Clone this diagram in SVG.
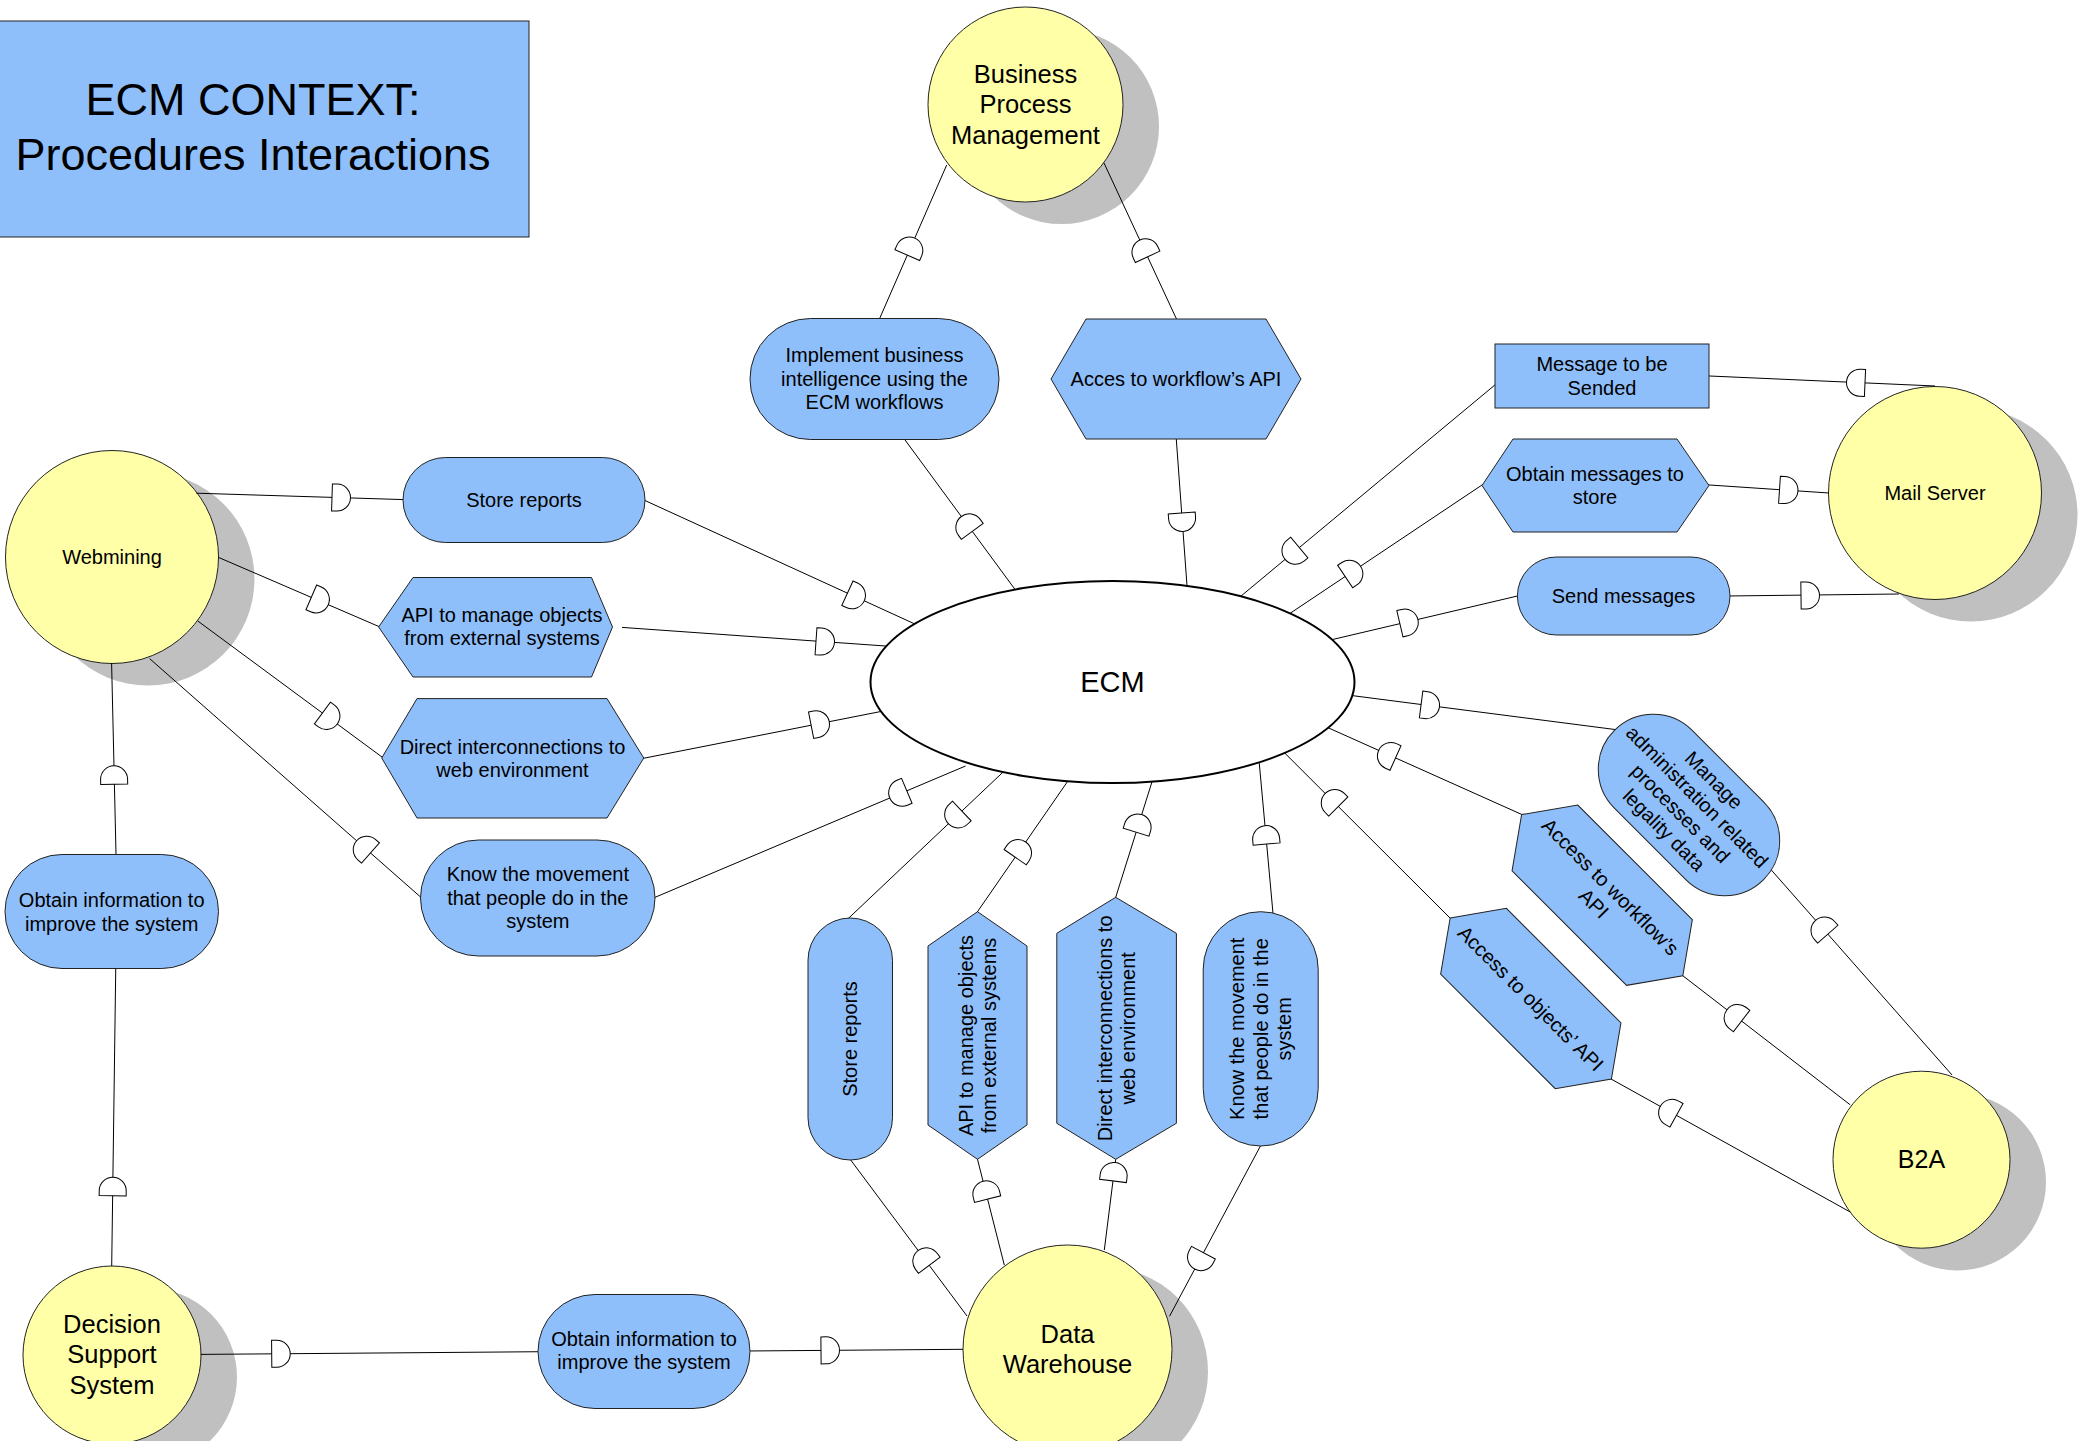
<svg xmlns="http://www.w3.org/2000/svg" xmlns:xlink="http://www.w3.org/1999/xlink" width="2089" height="1441" viewBox="0 0 2089 1441">
  <style>
    text { font-family: "Liberation Sans", Arial, sans-serif; fill: #000; text-anchor: middle; }
    .t20 { font-size: 20px; }
    .t24 { font-size: 25.5px; }
    .proc { fill: #8fbffa; stroke: #222; stroke-width: 1; }
    .actor { fill: #ffffa8; stroke: #222; stroke-width: 1; }
    .shadow { fill: #c0c0c0; stroke: none; }
    .conn line { stroke: #000; stroke-width: 1; fill: none; }
    .gate { fill: #fff; stroke: #000; stroke-width: 1; }
  </style>
  <defs>
    <!-- interface gate: flat back at x=0, rounded front pointing along +x -->
    <path id="gate" class="gate" d="M0,-13.5H5A13.5,13.5 0 0 1 5,13.5H0Z"/>
  </defs>
  <rect width="2089" height="1441" fill="#fff"/>

  <!-- title -->
  <g id="title">
    <rect x="-1" y="21" width="530" height="216" class="proc" stroke="#333"/>
    <text x="253" y="115" style="font-size:45px">ECM CONTEXT:</text>
    <text x="253" y="170" style="font-size:45px">Procedures Interactions</text>
  </g>

  <!-- actors (with drop shadows) -->
  <g id="bpm">
    <circle class="shadow" cx="1061.5" cy="126.5" r="97.5"/>
    <circle class="actor" cx="1025.5" cy="104.5" r="97.5"/>
    <text class="t24" x="1025.5" y="82.5">Business</text>
    <text class="t24" x="1025.5" y="113">Process</text>
    <text class="t24" x="1025.5" y="143.5">Management</text>
  </g>
  <g id="mail-server">
    <circle class="shadow" cx="1971" cy="515" r="106.5"/>
    <circle class="actor" cx="1935" cy="493" r="106.5"/>
    <text class="t20" x="1935" y="500">Mail Server</text>
  </g>
  <g id="webmining">
    <circle class="shadow" cx="148" cy="579" r="106.5"/>
    <circle class="actor" cx="112" cy="557" r="106.5"/>
    <text class="t20" x="112" y="564">Webmining</text>
  </g>
  <g id="dss">
    <circle class="shadow" cx="148" cy="1377" r="89"/>
    <circle class="actor" cx="112" cy="1355" r="89"/>
    <text class="t24" x="112" y="1332.5">Decision</text>
    <text class="t24" x="112" y="1363">Support</text>
    <text class="t24" x="112" y="1393.5">System</text>
  </g>
  <g id="data-warehouse">
    <circle class="shadow" cx="1103.5" cy="1371.5" r="104.5"/>
    <circle class="actor" cx="1067.5" cy="1349.5" r="104.5"/>
    <text class="t24" x="1067.5" y="1342.5">Data</text>
    <text class="t24" x="1067.5" y="1373">Warehouse</text>
  </g>
  <g id="b2a">
    <circle class="shadow" cx="1957.5" cy="1182" r="88.5"/>
    <circle class="actor" cx="1921.5" cy="1159.7" r="88.5"/>
    <text x="1921.5" y="1168" style="font-size:25px">B2A</text>
  </g>

  <!-- connectors -->
  <g id="connectors" class="conn">
    <g><line x1="946.7" y1="165" x2="878.1" y2="322"/><use xlink:href="#gate" transform="translate(907.3,255.1) rotate(-66.4)"/></g>
    <g><line x1="1104" y1="163" x2="1177.7" y2="321.6"/><use xlink:href="#gate" transform="translate(1147.6,256.8) rotate(-114.9)"/></g>
    <g><line x1="902.2" y1="436.1" x2="1018.6" y2="594.3"/><use xlink:href="#gate" transform="translate(972.3,531.4) rotate(-126.3)"/></g>
    <g><line x1="1176" y1="435.3" x2="1187.4" y2="591"/><use xlink:href="#gate" transform="translate(1181.7,513) rotate(85.8)"/></g>
    <g><line x1="1498" y1="382.4" x2="1237.1" y2="599.3"/><use xlink:href="#gate" transform="translate(1299.3,547.6) rotate(140.3)"/></g>
    <g><line x1="1485.3" y1="482.8" x2="1286.7" y2="615.6"/><use xlink:href="#gate" transform="translate(1345.2,576.5) rotate(-33.8)"/></g>
    <g><line x1="1521.3" y1="595.1" x2="1327.5" y2="640.7"/><use xlink:href="#gate" transform="translate(1399.9,623.7) rotate(-13.2)"/></g>
    <g><line x1="1346.7" y1="694.9" x2="1617.3" y2="729.8"/><use xlink:href="#gate" transform="translate(1421.1,704.5) rotate(7.3)"/></g>
    <g><line x1="1323.8" y1="725.8" x2="1524.3" y2="815.6"/><use xlink:href="#gate" transform="translate(1395.5,758) rotate(-155.9)"/></g>
    <g><line x1="1280.8" y1="749.1" x2="1452.8" y2="920.8"/><use xlink:href="#gate" transform="translate(1338.3,806.5) rotate(-135)"/></g>
    <g><line x1="641" y1="498.7" x2="918.8" y2="625.8"/><use xlink:href="#gate" transform="translate(847.4,593.2) rotate(24.6)"/></g>
    <g><line x1="622" y1="627.4" x2="891" y2="646.4"/><use xlink:href="#gate" transform="translate(816,641.2) rotate(4)"/></g>
    <g><line x1="639.4" y1="759.1" x2="885.9" y2="710.5"/><use xlink:href="#gate" transform="translate(811.1,725.2) rotate(-11.1)"/></g>
    <g><line x1="651.3" y1="898.9" x2="965.5" y2="766"/><use xlink:href="#gate" transform="translate(906.8,790.8) rotate(157.1)"/></g>
    <g><line x1="196.4" y1="493.2" x2="406.7" y2="499.7"/><use xlink:href="#gate" transform="translate(332,497.4) rotate(1.8)"/></g>
    <g><line x1="218.75" y1="557.5" x2="382.3" y2="628"/><use xlink:href="#gate" transform="translate(311.3,597.4) rotate(23.3)"/></g>
    <g><line x1="197.8" y1="621" x2="384.9" y2="759.2"/><use xlink:href="#gate" transform="translate(322.4,713) rotate(36.4)"/></g>
    <g><line x1="149.6" y1="658.6" x2="423.5" y2="899.6"/><use xlink:href="#gate" transform="translate(370.5,853) rotate(-138.6)"/></g>
    <g><line x1="111.6" y1="663" x2="116.1" y2="858"/><use xlink:href="#gate" transform="translate(114.2,784.3) rotate(-91.3)"/></g>
    <g><line x1="115.8" y1="964.4" x2="111.7" y2="1266"/><use xlink:href="#gate" transform="translate(112.65,1195.7) rotate(-89.2)"/></g>
    <g><line x1="200.7" y1="1354.4" x2="541.8" y2="1351.7"/><use xlink:href="#gate" transform="translate(271.7,1353.8) rotate(-0.5)"/></g>
    <g><line x1="745.7" y1="1351" x2="963" y2="1349.3"/><use xlink:href="#gate" transform="translate(821,1350.4) rotate(-0.5)"/></g>
    <g><line x1="1006.1" y1="769.2" x2="846.7" y2="920"/><use xlink:href="#gate" transform="translate(961.8,811) rotate(136.6)"/></g>
    <g><line x1="848.3" y1="1156.8" x2="967" y2="1316"/><use xlink:href="#gate" transform="translate(929.3,1265.3) rotate(-126.7)"/></g>
    <g><line x1="1070.1" y1="777.8" x2="975.2" y2="915"/><use xlink:href="#gate" transform="translate(1015.2,857.2) rotate(-55.3)"/></g>
    <g><line x1="976.5" y1="1155.4" x2="1004.3" y2="1265"/><use xlink:href="#gate" transform="translate(987.6,1199.1) rotate(-104.2)"/></g>
    <g><line x1="1153.5" y1="777" x2="1114.5" y2="901.1"/><use xlink:href="#gate" transform="translate(1136.1,832.2) rotate(-72.6)"/></g>
    <g><line x1="1116.2" y1="1155.3" x2="1104.3" y2="1250"/><use xlink:href="#gate" transform="translate(1113,1180.9) rotate(-82.8)"/></g>
    <g><line x1="1258.8" y1="758" x2="1273.3" y2="916.7"/><use xlink:href="#gate" transform="translate(1266.6,844.1) rotate(-95.2)"/></g>
    <g><line x1="1262.3" y1="1142.5" x2="1169.5" y2="1316.3"/><use xlink:href="#gate" transform="translate(1203.4,1252.7) rotate(118.1)"/></g>
    <g><line x1="1769.9" y1="868.4" x2="1952" y2="1075"/><use xlink:href="#gate" transform="translate(1827.8,934.2) rotate(-131.4)"/></g>
    <g><line x1="1679.8" y1="973.4" x2="1850.2" y2="1104.8"/><use xlink:href="#gate" transform="translate(1741.6,1021) rotate(-142.3)"/></g>
    <g><line x1="1608" y1="1077.3" x2="1850.2" y2="1212"/><use xlink:href="#gate" transform="translate(1676.5,1115.3) rotate(-150.9)"/></g>
    <g><line x1="1705" y1="375.8" x2="1935" y2="386"/><use xlink:href="#gate" transform="translate(1865,382.9) rotate(182.5)"/></g>
    <g><line x1="1705" y1="484.7" x2="1829" y2="493"/><use xlink:href="#gate" transform="translate(1779.5,489.7) rotate(3.8)"/></g>
    <g><line x1="1726" y1="596" x2="1899" y2="594"/><use xlink:href="#gate" transform="translate(1801,595.6) rotate(-0.7)"/></g>
  </g>

  <!-- central system -->
  <g id="ecm">
    <ellipse cx="1112.5" cy="682" rx="242" ry="101" fill="#fff" stroke="#000" stroke-width="2"/>
    <text x="1112.5" y="692" style="font-size:29px">ECM</text>
  </g>

  <!-- procedures -->
  <g id="implement-bi">
    <rect class="proc" x="750" y="318.5" width="249" height="121" rx="60.5"/>
    <text class="t20" x="874.5" y="362">Implement business</text>
    <text class="t20" x="874.5" y="385.5">intelligence using the</text>
    <text class="t20" x="874.5" y="409">ECM workflows</text>
  </g>
  <g id="acces-workflow-api">
    <polygon class="proc" points="1086,319 1266,319 1301,379 1266,439 1086,439 1051,379"/>
    <text class="t20" x="1176" y="386">Acces to workflow’s API</text>
  </g>
  <g id="message-sended">
    <rect class="proc" x="1495" y="344" width="214" height="64"/>
    <text class="t20" x="1602" y="371">Message to be</text>
    <text class="t20" x="1602" y="394.5">Sended</text>
  </g>
  <g id="obtain-messages">
    <polygon class="proc" points="1513,439 1677,439 1709,485.5 1677,532 1513,532 1482,485.5"/>
    <text class="t20" x="1595" y="480.5">Obtain messages to</text>
    <text class="t20" x="1595" y="504">store</text>
  </g>
  <g id="send-messages">
    <rect class="proc" x="1517.4" y="557" width="212.6" height="78" rx="39"/>
    <text class="t20" x="1623.5" y="603">Send messages</text>
  </g>
  <g id="store-reports-left">
    <rect class="proc" x="403" y="457.5" width="242" height="85" rx="42.5"/>
    <text class="t20" x="524" y="507">Store reports</text>
  </g>
  <g id="api-objects-left">
    <polygon class="proc" points="413,577.5 591.5,577.5 612.5,627 591.5,677 413,677 378.6,627"/>
    <text class="t20" x="502" y="621.5">API to manage objects</text>
    <text class="t20" x="502" y="645">from external systems</text>
  </g>
  <g id="direct-web-left">
    <polygon class="proc" points="417,698.6 607,698.6 643.75,758 607,818 417,818 381.7,758"/>
    <text class="t20" x="512.5" y="753.5">Direct interconnections to</text>
    <text class="t20" x="512.5" y="777">web environment</text>
  </g>
  <g id="know-movement-left">
    <rect class="proc" x="420.5" y="840" width="234.5" height="116" rx="58"/>
    <text class="t20" x="537.8" y="881">Know the movement</text>
    <text class="t20" x="537.8" y="904.5">that people do in the</text>
    <text class="t20" x="537.8" y="928">system</text>
  </g>
  <g id="obtain-info-left">
    <rect class="proc" x="5" y="854.5" width="213.5" height="114" rx="57"/>
    <text class="t20" x="111.7" y="907">Obtain information to</text>
    <text class="t20" x="111.7" y="930.5">improve the system</text>
  </g>
  <g id="obtain-info-bottom">
    <rect class="proc" x="538" y="1294.5" width="212" height="114" rx="57"/>
    <text class="t20" x="644" y="1345.5">Obtain information to</text>
    <text class="t20" x="644" y="1369">improve the system</text>
  </g>
  <g id="store-reports-v">
    <rect class="proc" x="808" y="918" width="84.5" height="242" rx="42.25"/>
    <text class="t20" transform="translate(850.25,1039) rotate(-90)" y="7">Store reports</text>
  </g>
  <g id="api-objects-v">
    <polygon class="proc" points="977.5,911.7 1027,946 1027,1125 977.5,1159.3 928,1125 928,946"/>
    <g transform="translate(977.5,1035.5) rotate(-90)">
      <text class="t20" y="-4.75">API to manage objects</text>
      <text class="t20" y="18.75">from external systems</text>
    </g>
  </g>
  <g id="direct-web-v">
    <polygon class="proc" points="1115.7,897.3 1176.4,933.3 1176.4,1123.3 1115.7,1159.3 1056.8,1123.3 1056.8,933.3"/>
    <g transform="translate(1116.6,1028.3) rotate(-90)">
      <text class="t20" y="-4.75">Direct interconnections to</text>
      <text class="t20" y="18.75">web environment</text>
    </g>
  </g>
  <g id="know-movement-v">
    <rect class="proc" x="1203.2" y="911.7" width="115" height="234.3" rx="57.5"/>
    <g transform="translate(1260.7,1028.8) rotate(-90)">
      <text class="t20" y="-16.5">Know the movement</text>
      <text class="t20" y="7">that people do in the</text>
      <text class="t20" y="30.5">system</text>
    </g>
  </g>
  <g id="manage-admin">
    <g transform="translate(1689,805) rotate(45)">
      <rect class="proc" x="-105.5" y="-55" width="211" height="110" rx="55"/>
      <text class="t20" y="-28.25">Manage</text>
      <text class="t20" y="-4.75">administration related</text>
      <text class="t20" y="18.75">processes and</text>
      <text class="t20" y="42.25">legality data</text>
    </g>
  </g>
  <g id="access-workflow-api">
    <g transform="translate(1602.2,895.2) rotate(45)">
      <polygon class="proc" points="-114,0 -81,-46.5 81,-46.5 114,0 81,46.5 -81,46.5"/>
      <text class="t20" y="-4.75">Access to workflow’s</text>
      <text class="t20" y="18.75">API</text>
    </g>
  </g>
  <g id="access-objects-api">
    <g transform="translate(1530.8,998.5) rotate(45)">
      <polygon class="proc" points="-114,0 -81,-46.5 81,-46.5 114,0 81,46.5 -81,46.5"/>
      <text class="t20" y="7">Access to objects’ API</text>
    </g>
  </g>
</svg>
